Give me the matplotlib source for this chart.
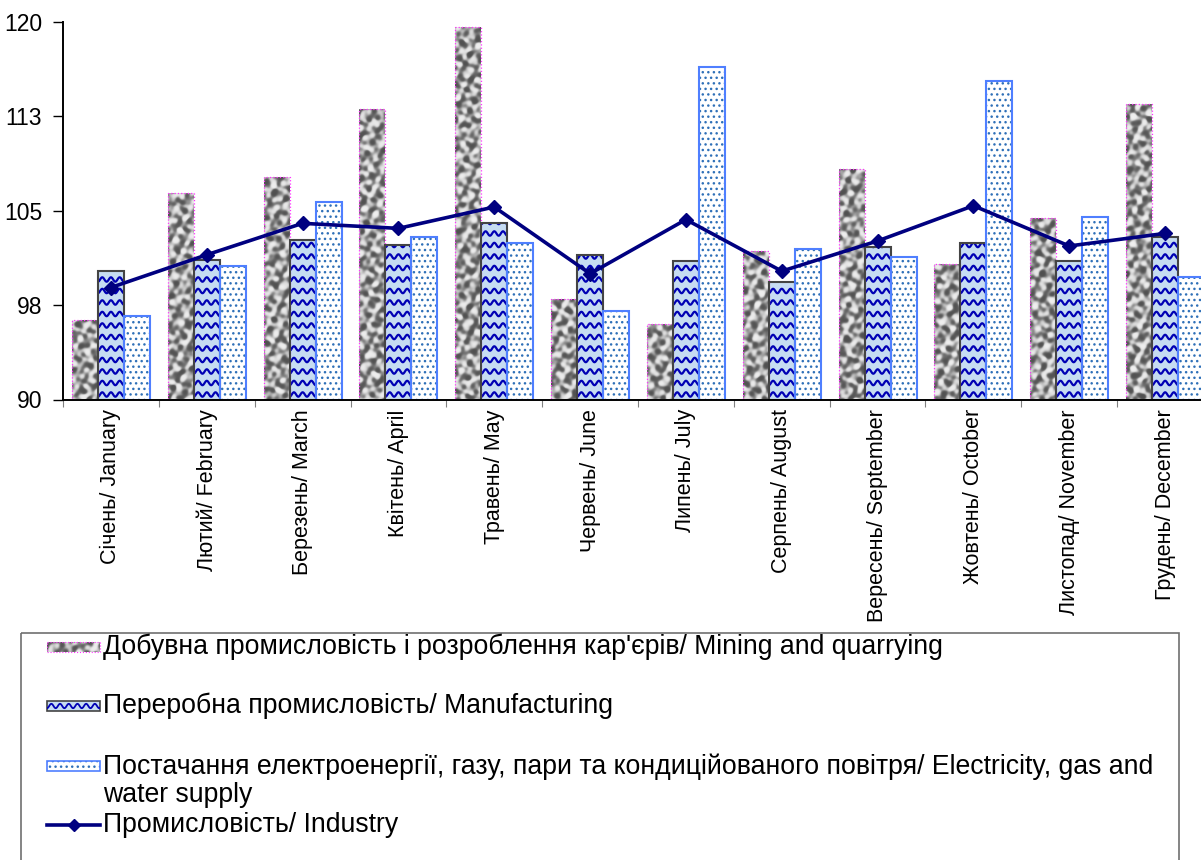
import numpy as np
import matplotlib
matplotlib.use("Agg")
import matplotlib.pyplot as plt
from matplotlib.patches import Rectangle

plt.rcParams['font.family'] = ['Liberation Sans', 'DejaVu Sans']

# дані / data
months = ['Січень/ January', 'Лютий/ February', 'Березень/ March', 'Квітень/ April',
          'Травень/ May', 'Червень/ June', 'Липень/ July', 'Серпень/ August',
          'Вересень/ September', 'Жовтень/ October', 'Листопад/ November', 'Грудень/ December']
mining = [96.3, 106.4, 107.7, 113.1, 119.6, 98.0, 96.0, 101.8, 108.3, 100.8, 104.4, 113.5]
manufacturing = [100.2, 101.1, 102.7, 102.3, 104.0, 101.5, 101.0, 99.3, 102.1, 102.4, 101.0, 102.9]
electricity = [96.6, 100.6, 105.7, 102.9, 102.4, 97.0, 116.4, 102.0, 101.3, 115.3, 104.5, 99.7]
industry = [98.9, 101.5, 104.0, 103.6, 105.3, 100.0, 104.3, 100.2, 102.6, 105.4, 102.2, 103.2]
labels = ['Добувна промисловість і розроблення кар\'єрів/ Mining and quarrying',
          'Переробна промисловість/ Manufacturing',
          'Постачання електроенергії, газу, пари та кондиційованого повітря/ Electricity, gas and\nwater supply',
          'Промисловість/ Industry']
yticks = [90, 97.5, 105, 112.5, 120]
ytick_labels = ['90', '98', '105', '113', '120']

W, H = 1201, 860
fig = plt.figure(figsize=(W / 100, H / 100), dpi=100)
ax = fig.add_axes([63 / W, (H - 399.5) / H, 1150 / W, 377.5 / H])
ax.set_xlim(-0.5, 11.5)
ax.set_ylim(90, 120)

PX_X = 1150 / 12.0   # пікселів на одиницю x
PX_Y = 377.5 / 30.0  # пікселів на одиницю y


def granite(h, w, k):
    # текстура "граніт" (детермінована, без випадкових чисел)
    yy, xx = np.mgrid[0:h, 0:w].astype(float)
    z = np.zeros((h, w))
    params = [(0.45, 0.2, 0.3), (0.17, 0.55, 1.7), (0.65, -0.35, 2.9), (-0.3, 0.4, 4.1),
              (0.25, -0.7, 0.9), (0.85, 0.45, 5.3), (-0.6, -0.25, 3.3), (0.1, 0.3, 2.2)]
    for i, (fx, fy, ph) in enumerate(params):
        z += np.sin(fx * xx + fy * yy + ph + 1.3 * k * (i + 1)) / (1 + 0.2 * i)
    z2 = np.sin(0.35 * xx + 3 * np.sin(0.25 * yy) + k) * np.cos(0.22 * yy + 0.8 * np.sin(0.3 * xx) + 2 * k)
    z = z + 1.2 * z2
    return np.tanh(z / 1.6)


bw = 26 / PX_X
x = np.arange(len(months))

# добувна (текстура)
for i, v in enumerate(mining):
    x0 = i - 1.5 * bw
    bar = Rectangle((x0, 90), bw, v - 90, facecolor='none', edgecolor='#ff33ff',
                    lw=0.9, ls=':', zorder=3)
    ax.add_patch(bar)
    hp = max(int((v - 90) * PX_Y), 2)
    im = ax.imshow(granite(hp, 26, i), extent=[x0, x0 + bw, 90, v], cmap='gray',
                   vmin=-2.0, vmax=1.2, aspect='auto', interpolation='bilinear', zorder=2)
    im.set_clip_path(bar)

# переробна (хвилі)
for i, v in enumerate(manufacturing):
    x0 = i - 0.5 * bw
    bar = Rectangle((x0, 90), bw, v - 90, facecolor='#c6dcf2', edgecolor='none', zorder=2)
    ax.add_patch(bar)
    xs = np.linspace(x0, x0 + bw, 80)
    period = 8.7 / PX_X
    row = 90 + 5 / PX_Y
    while row < v + 1:
        ys = row + (2.2 / PX_Y) * np.cos(2 * np.pi * (xs - x0 - period / 2) / period)
        ln, = ax.plot(xs, ys, color='#0000b4', lw=1.6, zorder=2.5)
        ln.set_clip_path(bar)
        row += 11.5 / PX_Y
    ax.add_patch(Rectangle((x0, 90), bw, v - 90, facecolor='none', edgecolor='#444444',
                           lw=1.5, zorder=3))

# електроенергія (крапки)
ax.bar(x + bw, np.array(electricity) - 90, bw, bottom=90, facecolor='white',
       edgecolor='#2f70b8', hatch='...', lw=0, zorder=2)
ax.bar(x + bw, np.array(electricity) - 90, bw, bottom=90, facecolor='none',
       edgecolor='#4f7fff', lw=1.5, zorder=3)

# промисловість (лінія)
ax.plot(x, industry, color='#000080', lw=2.6, marker='D', markersize=7, zorder=5)

ax.set_yticks(yticks)
ax.set_yticklabels(ytick_labels, fontsize=16.5)
ax.set_xticks(np.arange(-0.5, 12, 1))
ax.set_xticklabels([])
ax.set_xticks(x, minor=True)
ax.set_xticklabels(months, minor=True, rotation=90, fontsize=15.5, va='top', ha='center')
ax.tick_params(axis='x', which='major', length=5, color='#808080', direction='out')
ax.tick_params(axis='x', which='minor', length=0, pad=7)
ax.tick_params(axis='y', length=7, width=1, pad=8, direction='out')
for s in ['top', 'right']:
    ax.spines[s].set_visible(False)
for s in ['left', 'bottom']:
    ax.spines[s].set_linewidth(1.4)
    ax.spines[s].set_zorder(6)

# легенда
lax = fig.add_axes([0, 0, 1, 1])
lax.set_xlim(0, W)
lax.set_ylim(H, 0)
lax.axis('off')
lax.add_patch(Rectangle((21, 633), 1158, 260, facecolor='none', edgecolor='#707070', lw=1.2))

# ключ: добувна
hb = Rectangle((47, 642), 53, 10, facecolor='none', edgecolor='#ff33ff', lw=0.8, ls=':')
lax.add_patch(hb)
im = lax.imshow(granite(10, 53, 3), extent=[47, 100, 652, 642], cmap='gray', vmin=-2.0, vmax=1.2,
                aspect='auto', interpolation='bilinear')
im.set_clip_path(hb)
# ключ: переробна
hb2 = Rectangle((47, 701), 53, 10, facecolor='#c6dcf2', edgecolor='none')
lax.add_patch(hb2)
xs = np.linspace(47, 100, 120)
ln, = lax.plot(xs, 706 + 2.2 * np.cos(2 * np.pi * (xs - 47) / 8.7), color='#0000b4', lw=1.3)
ln.set_clip_path(hb2)
lax.add_patch(Rectangle((47, 701), 53, 10, facecolor='none', edgecolor='#444444', lw=1.2))
# ключ: електроенергія
lax.add_patch(Rectangle((47, 761), 53, 10, facecolor='white', edgecolor='#2f70b8', hatch='...', lw=0))
lax.add_patch(Rectangle((47, 761), 53, 10, facecolor='none', edgecolor='#4f7fff', lw=1.2))
# ключ: промисловість
lax.plot([47, 100], [825, 825], color='#000080', lw=2.6)
lax.plot([73.5], [825], color='#000080', marker='D', markersize=6)

lax.text(103, 647, labels[0], fontsize=19.2, va='center', ha='left')
lax.text(103, 706, labels[1], fontsize=19.2, va='center', ha='left')
lax.text(103, 753, labels[2], fontsize=19.2, va='top', ha='left', linespacing=1.15)
lax.text(103, 825, labels[3], fontsize=19.2, va='center', ha='left')

fig.savefig('out.png', dpi=100)
